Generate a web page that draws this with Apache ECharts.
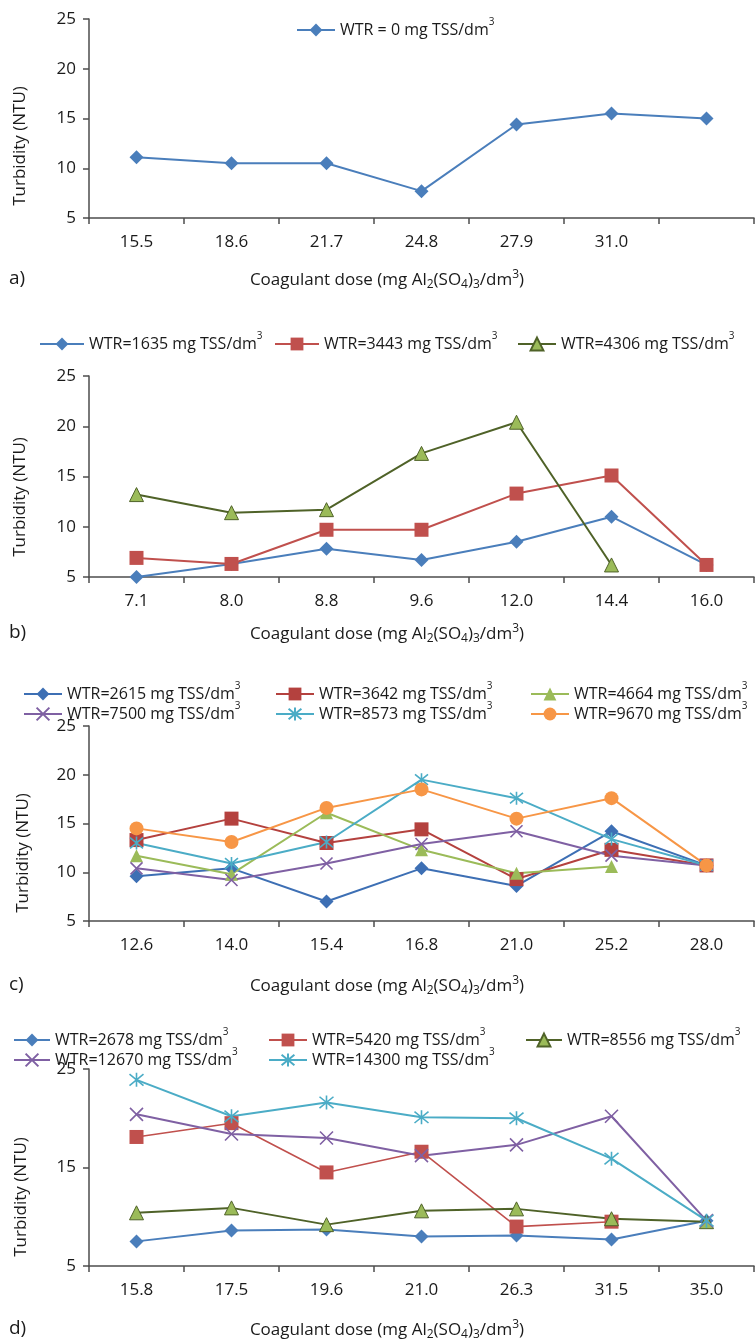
<!DOCTYPE html>
<html>
<head>
<meta charset="utf-8">
<script src="https://cdn.jsdelivr.net/npm/echarts@6/dist/echarts.min.js"></script>
<style>
html,body{margin:0;padding:0;background:#fff;}
#chart{width:756px;height:1341px;}
</style>
</head>
<body>
<div id="chart"></div>
<script>
// ---------- data ----------
const catsA = ['15.5','18.6','21.7','24.8','27.9','31.0',''];
const a0 = [11.1,10.5,10.5,7.7,14.4,15.5,15.0];

const catsB = ['7.1','8.0','8.8','9.6','12.0','14.4','16.0'];
const b1635 = [5.0,6.3,7.8,6.7,8.5,11.0,6.2];
const b3443 = [6.9,6.3,9.7,9.7,13.3,15.1,6.2];
const b4306 = [13.2,11.4,11.7,17.3,20.4,6.2,null];

const catsC = ['12.6','14.0','15.4','16.8','21.0','25.2','28.0'];
const c2615 = [9.6,10.4,7.0,10.4,8.6,14.2,10.7];
const c3642 = [13.3,15.5,13.0,14.4,9.3,12.3,10.7];
const c4664 = [11.7,9.8,16.1,12.3,9.9,10.6,null];
const c7500 = [10.4,9.2,10.9,12.9,14.2,11.7,10.7];
const c8573 = [13.0,10.9,13.1,19.5,17.6,13.4,10.7];
const c9670 = [14.5,13.1,16.6,18.5,15.5,17.6,10.7];

const catsD = ['15.8','17.5','19.6','21.0','26.3','31.5','35.0'];
const d2678 = [7.5,8.6,8.7,8.0,8.1,7.7,9.6];
const d5420 = [18.1,19.5,14.5,16.6,9.0,9.5,null];
const d8556 = [10.4,10.9,9.2,10.6,10.8,9.8,9.5];
const d12670 = [20.4,18.4,18.0,16.2,17.3,20.2,9.6];
const d14300 = [23.9,20.2,21.6,20.1,20.0,15.9,9.6];

const yTicksMain = [5,25,5];   // min, max, interval
const yTicksD = [5,25,10];

// ---------- styling ----------
const FONT = 'Open Sans';
const TXT = '#1a1a1a';
const AXIS = '#4d4d4d';
const X_SYM = 'path://M0,0L10,10M10,0L0,10';
const STAR_SYM = 'path://M5,0L5,10M0.9,0.9L9.1,9.1M9.1,0.9L0.9,9.1';

const grids = [
  {left:89, width:665, top:19, height:199},
  {left:89, width:665, top:376, height:201},
  {left:89, width:665, top:726, height:195},
  {left:89, width:665, top:1069, height:197}
];
const cats = [catsA, catsB, catsC, catsD];

const xAxes = cats.map((c,i)=>({
  type:'category', gridIndex:i, data:c, boundaryGap:true,
  axisLine:{lineStyle:{color:AXIS,width:1.5}},
  axisTick:{show:true,length:6,lineStyle:{color:AXIS,width:1.5}},
  axisLabel:{color:TXT,fontFamily:FONT,fontSize:17,margin:16,interval:0},
  splitLine:{show:false}
}));
const yAxes = [0,1,2,3].map(i=>{
  const t = i===3 ? yTicksD : yTicksMain;
  return {
    type:'value', gridIndex:i, min:t[0], max:t[1], interval:t[2],
    axisLine:{show:true,lineStyle:{color:AXIS,width:1.5}},
    axisTick:{show:true,length:6,lineStyle:{color:AXIS,width:1.5}},
    axisLabel:{color:TXT,fontFamily:FONT,fontSize:17,margin:13},
    splitLine:{show:false}
  };
});

function ser(name, data, gi, opt){
  return {
    type:'line', name:name, data:data, xAxisIndex:gi, yAxisIndex:gi,
    symbol:opt.symbol, symbolSize:opt.size, connectNulls:false,
    lineStyle:{color:opt.line,width:opt.lw||2},
    itemStyle:Object.assign({color:opt.fill}, opt.border?{borderColor:opt.border,borderWidth:opt.bw||1}:{}),
    emphasis:{disabled:true}, animation:false
  };
}
const BLUE='#4a7ebb', RED='#c0504d', DKGREEN='#4f6228', LTGREEN='#9bbb59',
      PURPLE='#7f60a3', CYAN='#4bacc6', ORANGE='#f79646', BLUE_C='#3d6fb4', RED_C='#b4413e';

const nA0='WTR = 0 mg TSS/dm3';
const nB=['WTR=1635 mg TSS/dm3','WTR=3443 mg TSS/dm3','WTR=4306 mg TSS/dm3'];
const nC=['WTR=2615 mg TSS/dm3','WTR=3642 mg TSS/dm3','WTR=4664 mg TSS/dm3','WTR=7500 mg TSS/dm3','WTR=8573 mg TSS/dm3','WTR=9670 mg TSS/dm3'];
const nD=['WTR=2678 mg TSS/dm3','WTR=5420 mg TSS/dm3','WTR=8556 mg TSS/dm3','WTR=12670 mg TSS/dm3','WTR=14300 mg TSS/dm3'];

const series = [
  ser(nA0, a0, 0, {symbol:'diamond',size:14,line:BLUE,fill:BLUE}),
  ser(nB[0], b1635, 1, {symbol:'diamond',size:14,line:BLUE,fill:BLUE}),
  ser(nB[1], b3443, 1, {symbol:'rect',size:14,line:RED,fill:RED}),
  ser(nB[2], b4306, 1, {symbol:'triangle',size:14,line:DKGREEN,fill:LTGREEN,border:DKGREEN,bw:1}),
  ser(nC[0], c2615, 2, {symbol:'diamond',size:14,line:BLUE_C,fill:BLUE_C}),
  ser(nC[1], c3642, 2, {symbol:'rect',size:14,line:RED_C,fill:RED_C}),
  ser(nC[2], c4664, 2, {symbol:'triangle',size:13,line:LTGREEN,fill:LTGREEN}),
  ser(nC[3], c7500, 2, {symbol:X_SYM,size:12,line:PURPLE,fill:PURPLE,border:PURPLE,bw:1.6}),
  ser(nC[4], c8573, 2, {symbol:STAR_SYM,size:13,line:CYAN,fill:CYAN,border:CYAN,bw:1.6}),
  ser(nC[5], c9670, 2, {symbol:'circle',size:14,line:ORANGE,fill:ORANGE}),
  ser(nD[0], d2678, 3, {symbol:'diamond',size:14,line:BLUE,fill:BLUE}),
  ser(nD[1], d5420, 3, {symbol:'rect',size:14,line:RED,fill:RED,lw:1.6}),
  ser(nD[2], d8556, 3, {symbol:'triangle',size:14,line:DKGREEN,fill:LTGREEN,border:DKGREEN,bw:1}),
  ser(nD[3], d12670, 3, {symbol:X_SYM,size:13,line:PURPLE,fill:PURPLE,border:PURPLE,bw:1.6}),
  ser(nD[4], d14300, 3, {symbol:STAR_SYM,size:14,line:CYAN,fill:CYAN,border:CYAN,bw:1.6})
];

// legends: one per item for exact placement
function leg(name, left, cy, w){
  return {
    data:[name], left:left, top:cy-8, orient:'horizontal', padding:0,
    itemWidth:w||38, itemHeight:16, selectedMode:false,
    formatter:function(n){ return n.replace(/dm3$/, 'dm{sup|3}'); },
    textStyle:{fontFamily:FONT,fontSize:16,color:TXT,lineHeight:26,
      rich:{sup:{fontFamily:FONT,fontSize:10,lineHeight:10,verticalAlign:'top',color:TXT}}}
  };
}
const legends = [
  leg(nA0, 296, 25, 38),
  leg(nB[0], 39, 339, 44), leg(nB[1], 274, 339, 44), leg(nB[2], 517, 339, 38),
  leg(nC[0], 23, 689), leg(nC[1], 275, 689), leg(nC[2], 530, 689),
  leg(nC[3], 23, 709), leg(nC[4], 275, 709), leg(nC[5], 530, 709),
  leg(nD[0], 13, 1035, 36), leg(nD[1], 268, 1035, 38), leg(nD[2], 525, 1035, 36),
  leg(nD[3], 13, 1055, 36), leg(nD[4], 268, 1055, 38)
];

// axis titles and panel letters
const subRich = {
  sub:{fontFamily:FONT,fontSize:12,lineHeight:12,verticalAlign:'bottom',color:TXT},
  sup:{fontFamily:FONT,fontSize:12,lineHeight:12,verticalAlign:'top',color:TXT}
};
const xName = 'Coagulant dose (mg Al{sub|2}(SO{sub|4}){sub|3}/dm{sup|3})';
const yName = 'Turbidity (NTU)';
const panelLetters = ['a)','b)','c)','d)'];
const xNameY = [280, 634, 986, 1330];
const yNamePos = [[20,146],[20,497],[23,853],[21,1197]];

const graphics = [];
for (let i=0;i<4;i++){
  graphics.push({type:'text', x:387, y:xNameY[i], style:{text:xName, align:'center', verticalAlign:'middle',
    fontFamily:FONT, fontSize:17, lineHeight:22, fill:TXT, rich:subRich}});
  graphics.push({type:'text', x:9, y:xNameY[i]-1, style:{text:panelLetters[i], align:'left', verticalAlign:'middle',
    fontFamily:FONT, fontSize:19, fill:TXT}});
  graphics.push({type:'text', x:yNamePos[i][0], y:yNamePos[i][1], rotation:Math.PI/2,
    style:{text:yName, align:'center', verticalAlign:'middle', fontFamily:FONT, fontSize:17, fill:TXT}});
}

const chart = echarts.init(document.getElementById('chart'), null, {renderer:'canvas'});
chart.setOption({
  backgroundColor:'#ffffff',
  animation:false,
  grid:grids,
  xAxis:xAxes,
  yAxis:yAxes,
  legend:legends,
  series:series,
  graphic:graphics
});
</script>
</body>
</html>
